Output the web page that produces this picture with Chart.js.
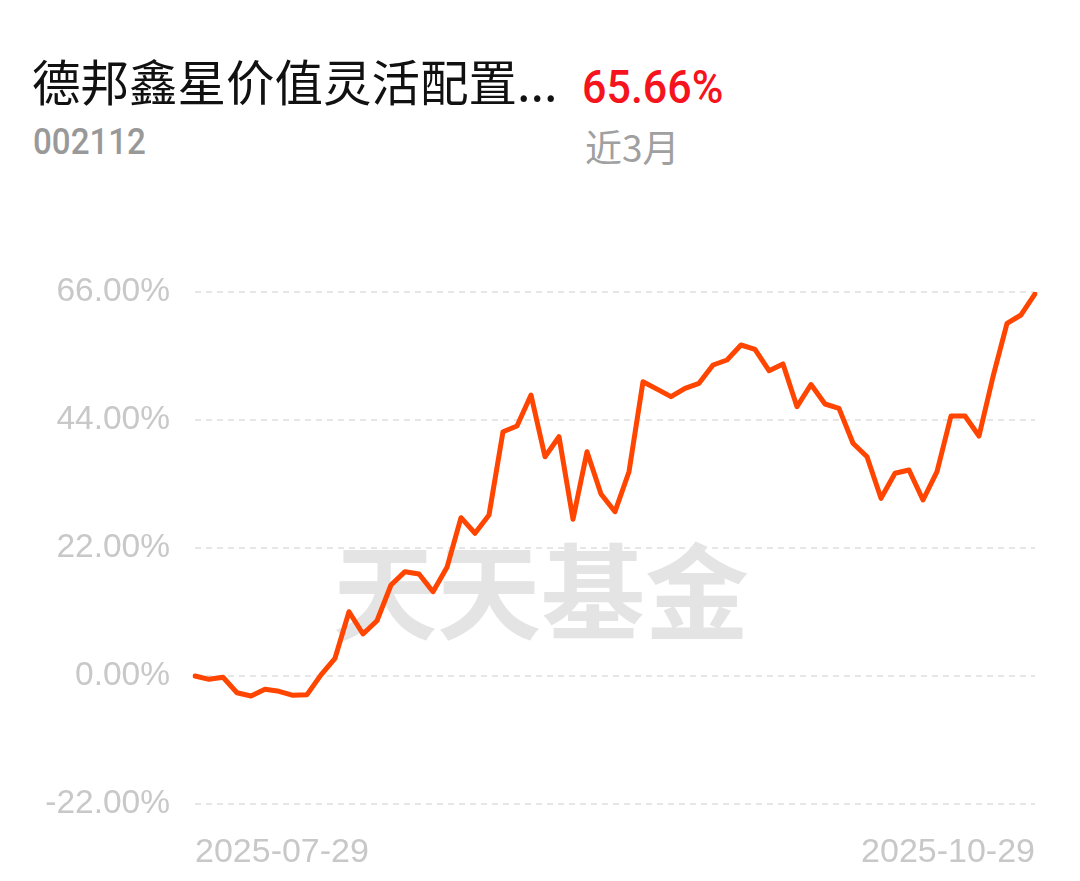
<!DOCTYPE html>
<html>
<head>
<meta charset="utf-8">
<script src="https://cdn.jsdelivr.net/npm/chart.js@4.4.1/dist/chart.umd.min.js"></script>
<style>
  html, body { margin: 0; padding: 0; background: #fff; }
  body { width: 1080px; height: 881px; position: relative; overflow: hidden; }
  .title { position: absolute; left: 32px; top: 56px; font: 48.5px "Noto Sans CJK SC", sans-serif; color: #111; line-height: 1; white-space: nowrap; }
  .code { position: absolute; left: 33px; top: 124px; font: 500 36px Roboto, sans-serif; color: #999; line-height: 1; transform: scaleX(0.92); transform-origin: left top; }
  .ret { position: absolute; left: 582px; top: 64px; font: 500 43px Roboto, sans-serif; color: #f5141e; line-height: 1; transform: scaleY(1.08); transform-origin: left top; }
  .period { position: absolute; left: 585px; top: 128px; font: 37px "Noto Sans CJK SC", sans-serif; color: #a0a0a0; line-height: 1; }
  #wrap { position: absolute; left: 0; top: 0; width: 1080px; height: 881px; }
</style>
</head>
<body>
<div class="title">德邦鑫星价值灵活配置...</div>
<div class="code">002112</div>
<div class="ret">65.66%</div>
<div class="period">近3月</div>
<div id="wrap"><canvas id="navChart"></canvas></div>
<script>
// trading days, 2025-07-29 .. 2025-10-29
const dates = [
    '2025-07-29', '2025-07-30', '2025-07-31',
    '2025-08-01', '2025-08-04', '2025-08-05', '2025-08-06', '2025-08-07', '2025-08-08',
    '2025-08-11', '2025-08-12', '2025-08-13', '2025-08-14', '2025-08-15',
    '2025-08-18', '2025-08-19', '2025-08-20', '2025-08-21', '2025-08-22',
    '2025-08-25', '2025-08-26', '2025-08-27', '2025-08-28', '2025-08-29',
    '2025-09-01', '2025-09-02', '2025-09-03', '2025-09-04', '2025-09-05',
    '2025-09-08', '2025-09-09', '2025-09-10', '2025-09-11', '2025-09-12',
    '2025-09-15', '2025-09-16', '2025-09-17', '2025-09-18', '2025-09-19',
    '2025-09-22', '2025-09-23', '2025-09-24', '2025-09-25', '2025-09-26',
    '2025-09-29', '2025-09-30',
    '2025-10-09', '2025-10-10',
    '2025-10-13', '2025-10-14', '2025-10-15', '2025-10-16', '2025-10-17',
    '2025-10-20', '2025-10-21', '2025-10-22', '2025-10-23', '2025-10-24',
    '2025-10-27', '2025-10-28', '2025-10-29'
];

// cumulative return, %
const returns = [
    0, -0.57, -0.22, -2.87, -3.44, -2.29, -2.63, -3.32, -3.21, 0.2,
    3.04, 11.05, 7.22, 9.5, 15.64, 17.93, 17.53, 14.49, 18.68, 27.21,
    24.53, 27.67, 41.99, 42.97, 48.3, 37.69, 41.13, 26.93, 38.55, 31.28,
    28.24, 35.11, 50.58, 49.3, 48.01, 49.45, 50.31, 53.45, 54.31, 56.89,
    56.15, 52.47, 53.63, 46.29, 50.1, 46.75, 46.01, 40.0, 37.69, 30.54,
    34.84, 35.41, 30.25, 35.11, 44.69, 44.69, 41.25, 51.44, 60.62, 62.05,
    65.66
];

const yTicks = [-22, 0, 22, 44, 66];

// light grey "天天基金" mark behind the line
const watermark = {
    id: 'watermark',
    beforeDraw(chart) {
        const ctx = chart.ctx;
        ctx.save();
        ctx.font = '700 104px "Noto Sans CJK SC", sans-serif';
        ctx.fillStyle = '#e4e4e4';
        ctx.textAlign = 'center';
        ctx.textBaseline = 'middle';
        ctx.fillText('天天基金', 541, 592);
        ctx.restore();
    }
};

const ctx = document.getElementById('navChart').getContext('2d');
const navChart = new Chart(ctx, {
    type: 'line',
    data: {
        labels: dates,
        datasets: [{
            data: returns,
            borderColor: '#ff4500',
            borderWidth: 5,
            pointRadius: 0,
            tension: 0,
            borderJoinStyle: 'round',
            borderCapStyle: 'round',
            fill: false
        }]
    },
    options: {
        responsive: true,
        maintainAspectRatio: false,
        animation: false,
        layout: { padding: { top: 292, right: 45, left: 0, bottom: 0 } },
        plugins: {
            legend: { display: false },
            tooltip: { enabled: false }
        },
        scales: {
            x: {
                grid: { display: false },
                border: { display: false },
                afterFit: (scale) => { scale.height = 77; },
                ticks: {
                    autoSkip: false,
                    maxRotation: 0,
                    align: 'inner',
                    padding: 20,
                    color: '#c8c8c8',
                    font: { family: '"Liberation Sans", Arial, sans-serif', size: 34 },
                    callback: (v, i) => (i === 0 || i === dates.length - 1) ? dates[i] : ''
                }
            },
            y: {
                min: yTicks[0],
                max: yTicks[yTicks.length - 1],
                afterBuildTicks: (scale) => { scale.ticks = yTicks.map(v => ({ value: v })); },
                afterFit: (scale) => { scale.width = 195; },
                border: { display: false, dash: [6, 5] },
                grid: { color: '#e6e6e6', lineWidth: 2, drawTicks: false },
                ticks: {
                    padding: 25,
                    color: '#c8c8c8',
                    font: { family: '"Liberation Sans", Arial, sans-serif', size: 33.5 },
                    callback: (v) => v.toFixed(2) + '%'
                }
            }
        }
    },
    plugins: [watermark]
});
</script>
</body>
</html>
